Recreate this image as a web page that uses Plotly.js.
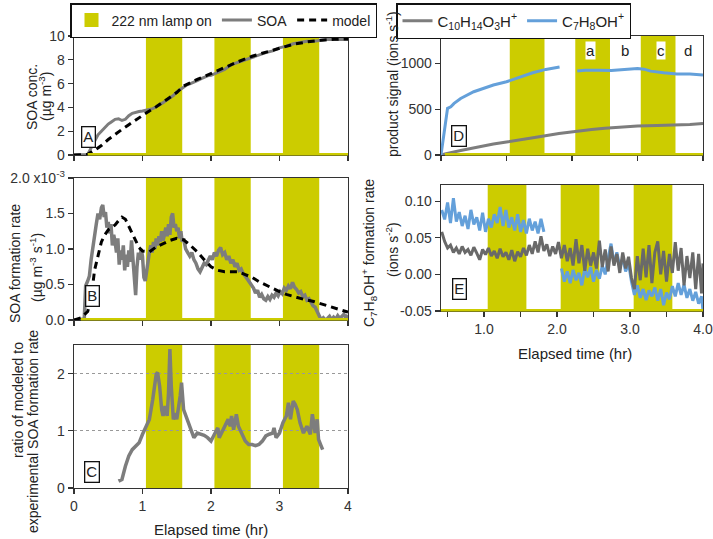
<!DOCTYPE html>
<html>
<head>
<meta charset="utf-8">
<script src="https://cdn.plot.ly/plotly-3.0.1.min.js"></script>
<style>html,body{margin:0;padding:0;background:#fff;}#chart{width:713px;height:539px;}</style>
</head>
<body>
<div id="chart"></div>
<script>
// ---------- DATA ----------
const lampOn  = [1.05, 2.05, 3.05];
const lampOff = [1.58, 2.58, 3.58];

// Panel A: SOA concentration (ug m-3)
const soaTimeA = [0, 0.1, 0.2, 0.25, 0.3, 0.35, 0.4, 0.45, 0.5, 0.55, 0.6, 0.65, 0.7, 0.75, 0.8, 0.85, 0.9, 0.95, 1.0, 1.05, 1.1, 1.15, 1.2, 1.25, 1.3, 1.35, 1.4, 1.45, 1.5, 1.55, 1.6, 1.65, 1.7, 1.75, 1.8, 1.85, 1.9, 1.95, 2.0, 2.1, 2.2, 2.3, 2.4, 2.5, 2.6, 2.7, 2.8, 2.9, 3.0, 3.1, 3.2, 3.3, 3.4, 3.5, 3.6, 3.7, 3.8, 3.9, 4.0];
const soaConcA = [0, 0.02, 0.05, 0.6, 1.2, 1.7, 2.0, 2.3, 2.6, 2.8, 3.0, 3.05, 2.9, 3.0, 3.3, 3.5, 3.6, 3.65, 3.7, 3.75, 3.8, 3.9, 4.05, 4.2, 4.4, 4.6, 4.8, 5.0, 5.3, 5.5, 5.7, 5.9, 6.0, 6.1, 6.25, 6.4, 6.55, 6.65, 6.7, 6.95, 7.2, 7.6, 7.8, 8.0, 8.25, 8.4, 8.6, 8.75, 9.0, 9.15, 9.35, 9.45, 9.55, 9.55, 9.65, 9.7, 9.72, 9.68, 9.7];
const modelTimeA = [0, 0.1, 0.2, 0.3, 0.4, 0.5, 0.6, 0.7, 0.8, 0.9, 1.0, 1.1, 1.2, 1.3, 1.4, 1.5, 1.6, 1.7, 1.8, 1.9, 2.0, 2.2, 2.4, 2.6, 2.8, 3.0, 3.2, 3.4, 3.6, 3.8, 4.0];
const modelConcA = [0, 0, 0.05, 0.4, 0.8, 1.3, 1.75, 2.15, 2.55, 2.95, 3.3, 3.7, 4.05, 4.45, 4.85, 5.25, 5.8, 6.1, 6.35, 6.6, 6.85, 7.4, 7.85, 8.3, 8.65, 9.0, 9.3, 9.5, 9.65, 9.72, 9.75];

// Panel B: SOA formation rate (x10^-3 ug m-3 s-1)
const rateTimeB = [0, 0.08, 0.15, 0.17, 0.2, 0.225, 0.25, 0.275, 0.3, 0.325, 0.35, 0.375, 0.4, 0.42, 0.44, 0.46, 0.48, 0.5, 0.52, 0.54, 0.56, 0.58, 0.6, 0.62, 0.64, 0.66, 0.68, 0.7, 0.72, 0.74, 0.76, 0.78, 0.8, 0.82, 0.84, 0.86, 0.88, 0.9, 0.92, 0.94, 0.96, 0.98, 1.0, 1.02, 1.04, 1.06, 1.08, 1.1, 1.12, 1.14, 1.16, 1.18, 1.2, 1.22, 1.24, 1.26, 1.28, 1.3, 1.32, 1.34, 1.36, 1.38, 1.4, 1.42, 1.44, 1.46, 1.48, 1.5, 1.52, 1.54, 1.56, 1.58, 1.6, 1.63, 1.66, 1.69, 1.72, 1.75, 1.78, 1.81, 1.84, 1.87, 1.9, 1.93, 1.96, 1.99, 2.02, 2.05, 2.08, 2.11, 2.14, 2.17, 2.2, 2.23, 2.26, 2.29, 2.32, 2.35, 2.38, 2.41, 2.44, 2.47, 2.5, 2.53, 2.56, 2.59, 2.62, 2.65, 2.68, 2.71, 2.74, 2.77, 2.8, 2.83, 2.86, 2.89, 2.92, 2.95, 2.98, 3.01, 3.04, 3.07, 3.1, 3.13, 3.16, 3.19, 3.22, 3.25, 3.28, 3.31, 3.34, 3.37, 3.4, 3.43, 3.46, 3.49, 3.52, 3.55, 3.58, 3.61, 3.64, 3.67, 3.7, 3.73, 3.76, 3.79, 3.82, 3.85, 3.88, 3.91, 3.94, 3.97, 4.0];
const soaRateB = [0, 0.0, 0.02, 0.48, 0.55, 0.62, 0.85, 1.05, 1.25, 1.35, 1.5, 1.42, 1.58, 1.62, 1.45, 1.52, 1.3, 1.38, 1.22, 1.35, 1.05, 1.2, 1.1, 0.95, 1.15, 0.78, 0.98, 0.85, 1.05, 0.7, 0.92, 0.75, 0.98, 0.82, 1.12, 0.9, 0.6, 0.35, 0.75, 0.95, 0.85, 1.0, 0.9, 0.6, 0.55, 0.7, 0.82, 0.95, 1.05, 0.95, 1.1, 1.0, 1.15, 1.05, 1.18, 1.1, 1.25, 1.12, 1.2, 1.3, 1.18, 1.35, 1.2, 1.45, 1.5, 1.3, 1.35, 1.25, 1.3, 1.15, 1.25, 1.1, 1.15, 1.0, 0.95, 0.9, 0.95, 0.85, 0.8, 0.72, 0.68, 0.75, 0.8, 0.78, 0.85, 0.9, 0.85, 0.95, 0.9, 0.98, 1.02, 0.92, 0.95, 0.85, 0.9, 0.8, 0.85, 0.75, 0.8, 0.7, 0.72, 0.65, 0.62, 0.58, 0.55, 0.5, 0.45, 0.38, 0.42, 0.32, 0.36, 0.3, 0.28, 0.33, 0.29, 0.35, 0.32, 0.38, 0.34, 0.4, 0.37, 0.45, 0.42, 0.48, 0.44, 0.53, 0.46, 0.43, 0.38, 0.4, 0.33, 0.35, 0.28, 0.3, 0.24, 0.2, 0.18, 0.12, 0.05, 0.0, 0.03, 0.0, 0.02, 0.05, 0.0, 0.04, 0.01, 0.06, 0.02, 0.05, 0.08, 0.03, 0.07];
const modelTimeB = [0, 0.1, 0.2, 0.25, 0.3, 0.35, 0.4, 0.45, 0.5, 0.55, 0.6, 0.65, 0.7, 0.75, 0.8, 0.85, 0.9, 0.95, 1.0, 1.1, 1.2, 1.3, 1.4, 1.5, 1.6, 1.7, 1.8, 1.9, 2.0, 2.1, 2.2, 2.3, 2.4, 2.5, 2.6, 2.7, 2.8, 2.9, 3.0, 3.1, 3.2, 3.3, 3.4, 3.5, 3.6, 3.7, 3.8, 3.9, 4.0];
const modelRateB = [0, 0.03, 0.12, 0.3, 0.7, 0.9, 1.1, 1.2, 1.27, 1.3, 1.34, 1.4, 1.45, 1.42, 1.32, 1.2, 1.1, 1.02, 0.97, 0.96, 1.03, 1.08, 1.12, 1.15, 1.13, 1.05, 0.96, 0.85, 0.75, 0.7, 0.68, 0.68, 0.68, 0.64, 0.6, 0.54, 0.49, 0.44, 0.4, 0.36, 0.33, 0.31, 0.28, 0.26, 0.23, 0.2, 0.16, 0.14, 0.11];

// Panel C: ratio of modeled to experimental SOA formation rate
const ratioTimeC = [0.65, 0.7, 0.75, 0.8, 0.85, 0.9, 0.95, 1.0, 1.05, 1.1, 1.15, 1.2, 1.22, 1.25, 1.28, 1.3, 1.33, 1.36, 1.38, 1.4, 1.42, 1.45, 1.48, 1.5, 1.55, 1.57, 1.6, 1.65, 1.7, 1.75, 1.8, 1.85, 1.9, 1.95, 2.0, 2.05, 2.1, 2.12, 2.15, 2.2, 2.25, 2.28, 2.3, 2.33, 2.35, 2.37, 2.4, 2.45, 2.5, 2.55, 2.6, 2.65, 2.7, 2.75, 2.8, 2.85, 2.9, 2.92, 2.95, 3.0, 3.05, 3.1, 3.13, 3.16, 3.2, 3.23, 3.26, 3.3, 3.35, 3.4, 3.45, 3.48, 3.52, 3.55, 3.57, 3.6, 3.63];
const ratioC = [0.12, 0.15, 0.38, 0.56, 0.67, 0.73, 0.79, 0.94, 1.08, 1.2, 1.55, 1.99, 2.02, 1.78, 1.37, 1.26, 1.43, 1.26, 1.67, 2.43, 1.78, 1.2, 1.31, 1.2, 1.61, 1.84, 1.37, 1.2, 1.02, 0.88, 0.96, 0.94, 0.92, 0.88, 0.82, 0.94, 1.05, 0.88, 0.96, 1.08, 1.2, 1.08, 1.26, 1.02, 1.2, 1.29, 1.08, 0.96, 0.82, 0.76, 0.76, 0.74, 0.76, 0.82, 0.91, 0.94, 0.96, 1.05, 0.88, 0.96, 1.14, 1.26, 1.49, 1.2, 1.52, 1.46, 1.37, 1.14, 0.96, 1.08, 0.94, 1.29, 0.96, 1.2, 0.85, 0.76, 0.67];

// Panel D: product signal (ions s-1)
const prodTimeC10 = [0, 0.06, 0.3, 0.5, 0.8, 1.0, 1.2, 1.5, 1.8, 2.0, 2.3, 2.5, 2.8, 3.0, 3.3, 3.5, 3.8, 4.0];
const signalC10 = [0, 12, 50, 80, 120, 142, 168, 200, 235, 255, 278, 291, 305, 316, 321, 324, 334, 345];
const prodTimeC7 = [0, 0.1, 0.15, 0.2, 0.3, 0.4, 0.5, 0.6, 0.8, 1.0, 1.2, 1.4, 1.6, 1.81, 1.9, 2.08, 2.2, 2.4, 2.6, 2.8, 3.0, 3.1, 3.2, 3.4, 3.6, 3.8, 4.0];
const signalC7 = [0, 510, 527, 564, 618, 655, 691, 716, 764, 800, 847, 898, 935, 962, null, 918, 927, 927, 924, 935, 945, 938, 916, 898, 884, 884, 873];

// Panel E: C7H8OH+ formation rate (ions s-2)
const rateTimeC10E = [0.42,0.46,0.50,0.54,0.58,0.62,0.66,0.70,0.74,0.78,0.82,0.86,0.90,0.94,0.98,1.02,1.06,1.10,1.14,1.18,1.22,1.26,1.30,1.34,1.38,1.42,1.46,1.50,1.54,1.58,1.62,1.66,1.70,1.74,1.78,1.82,1.86,1.90,1.94,1.98,2.02,2.06,2.10,2.14,2.18,2.22,2.26,2.30,2.34,2.38,2.42,2.46,2.50,2.54,2.58,2.62,2.66,2.70,2.74,2.78,2.82,2.86,2.90,2.94,2.98,3.02,3.06,3.10,3.14,3.18,3.22,3.26,3.30,3.34,3.38,3.42,3.46,3.50,3.54,3.58,3.62,3.66,3.70,3.74,3.78,3.82,3.86,3.90,3.94,3.98,4.00];
const rateC10E = [0.058,0.045,0.036,0.040,0.030,0.036,0.028,0.038,0.030,0.034,0.026,0.037,0.029,0.020,0.034,0.027,0.036,0.025,0.032,0.022,0.035,0.024,0.030,0.020,0.033,0.018,0.031,0.024,0.036,0.026,0.040,0.028,0.045,0.030,0.052,0.032,0.041,0.025,0.038,0.028,0.044,0.022,0.040,0.018,0.036,0.012,0.048,0.015,0.040,0.005,0.035,0.012,0.030,0.008,0.046,0.010,0.034,0.004,0.038,0.012,0.028,0.002,0.030,0.008,0.024,-0.005,-0.020,0.025,-0.008,0.035,-0.004,0.040,-0.012,0.030,0.045,0.000,0.032,-0.010,0.028,0.002,0.044,0.005,0.036,-0.015,0.025,-0.005,0.030,-0.020,0.028,-0.026,0.015];
const rateTimeC7E = [0.42,0.46,0.50,0.54,0.58,0.62,0.66,0.70,0.74,0.78,0.82,0.86,0.90,0.94,0.98,1.02,1.06,1.10,1.14,1.18,1.22,1.26,1.30,1.34,1.38,1.42,1.46,1.50,1.54,1.58,1.62,1.66,1.70,1.74,1.78,1.82,1.94,2.06,2.10,2.14,2.18,2.22,2.26,2.30,2.34,2.38,2.42,2.46,2.50,2.54,2.58,2.62,2.66,2.70,2.74,2.78,2.82,2.86,2.90,2.94,2.98,3.02,3.06,3.10,3.14,3.18,3.22,3.26,3.30,3.34,3.38,3.42,3.46,3.50,3.54,3.58,3.62,3.66,3.70,3.74,3.78,3.82,3.86,3.90,3.94,3.98,4.00];
const rateC7E = [0.088,0.075,0.098,0.070,0.104,0.072,0.085,0.066,0.080,0.062,0.088,0.068,0.078,0.060,0.084,0.058,0.076,0.064,0.082,0.070,0.092,0.066,0.088,0.064,0.078,0.060,0.082,0.058,0.074,0.056,0.076,0.060,0.072,0.056,0.076,0.058,null,0.008,-0.010,0.004,-0.012,0.006,-0.008,0.002,-0.015,0.008,-0.004,0.010,-0.010,0.006,-0.006,0.012,0.000,0.022,0.042,0.015,0.030,0.010,0.022,0.004,0.015,-0.010,-0.028,-0.015,-0.032,-0.020,-0.035,-0.022,-0.030,-0.018,-0.036,-0.020,-0.042,-0.025,-0.034,-0.016,-0.030,-0.012,-0.028,-0.014,-0.032,-0.020,-0.036,-0.024,-0.040,-0.030,-0.050];

const panelLetters = ['A', 'B', 'C', 'D', 'E'];
const intervalLabels = ['a', 'b', 'c', 'd'];

// ---------- STYLE ----------
const FONT = 'Liberation Sans, Arial, sans-serif';
const YEL = 'rgb(204,204,0)';
const GRAY = 'rgb(125,125,125)';
const DGRAY = 'rgb(105,105,105)';
const BLUE = 'rgb(100,160,218)';
const AX = '#333';

function px2x(p) { return p / 713; }
function px2y(p) { return 1 - p / 539; }

const traces = [
  {x: [null], y: [null], xaxis: 'x', yaxis: 'y', type: 'scatter', mode: 'markers', name: '222 nm lamp on',
   marker: {symbol: 'square', size: 14, color: YEL}, legend: 'legend'},
  {x: soaTimeA, y: soaConcA, xaxis: 'x', yaxis: 'y', type: 'scatter', mode: 'lines', name: 'SOA',
   line: {color: GRAY, width: 3}, legend: 'legend'},
  {x: modelTimeA, y: modelConcA, xaxis: 'x', yaxis: 'y', type: 'scatter', mode: 'lines', name: 'model',
   line: {color: '#000', width: 3, dash: '7px,5px'}, legend: 'legend'},
  {x: rateTimeB, y: soaRateB, xaxis: 'x2', yaxis: 'y2', type: 'scatter', mode: 'lines', showlegend: false,
   line: {color: GRAY, width: 3.5}},
  {x: modelTimeB, y: modelRateB, xaxis: 'x2', yaxis: 'y2', type: 'scatter', mode: 'lines', showlegend: false,
   line: {color: '#000', width: 3, dash: '7px,5px'}},
  {x: ratioTimeC, y: ratioC, xaxis: 'x3', yaxis: 'y3', type: 'scatter', mode: 'lines', showlegend: false,
   line: {color: GRAY, width: 3.5}},
  {x: prodTimeC10, y: signalC10, xaxis: 'x4', yaxis: 'y4', type: 'scatter', mode: 'lines',
   name: 'C<sub>10</sub>H<sub>14</sub>O<sub>3</sub>H<sup>+</sup>', line: {color: GRAY, width: 3}, legend: 'legend2'},
  {x: prodTimeC7, y: signalC7, xaxis: 'x4', yaxis: 'y4', type: 'scatter', mode: 'lines', connectgaps: false,
   name: 'C<sub>7</sub>H<sub>8</sub>OH<sup>+</sup>', line: {color: BLUE, width: 3}, legend: 'legend2'},
  {x: rateTimeC7E, y: rateC7E, xaxis: 'x5', yaxis: 'y5', type: 'scatter', mode: 'lines', showlegend: false,
   connectgaps: false, line: {color: BLUE, width: 3}},
  {x: rateTimeC10E, y: rateC10E, xaxis: 'x5', yaxis: 'y5', type: 'scatter', mode: 'lines', showlegend: false,
   line: {color: DGRAY, width: 3}}
];

function axBase(extra) {
  return Object.assign({
    showline: true, mirror: true, linecolor: AX, linewidth: 1.3,
    ticks: 'outside', ticklen: 5, tickcolor: AX, tickwidth: 1.2,
    zeroline: false, showgrid: false, fixedrange: true,
    tickfont: {family: FONT, size: 14, color: '#333'}
  }, extra);
}

const xdomL = [px2x(74), px2x(348)];
const xdomR = [px2x(441), px2x(703)];

const layout = {
  width: 713, height: 539,
  margin: {l: 0, r: 0, t: 0, b: 0},
  paper_bgcolor: '#fff', plot_bgcolor: 'rgba(0,0,0,0)',
  font: {family: FONT, color: '#222'},
  showlegend: true,
  legend: {orientation: 'h', x: px2x(70), y: px2y(3), xanchor: 'left', yanchor: 'top',
    bordercolor: '#111', borderwidth: 1.5, bgcolor: '#fff', font: {family: FONT, size: 14, color: '#222'},
    itemwidth: 30},
  legend2: {orientation: 'h', x: px2x(396), y: px2y(3), xanchor: 'left', yanchor: 'top',
    bordercolor: '#111', borderwidth: 1.5, bgcolor: '#fff', font: {family: FONT, size: 15, color: '#222'},
    itemwidth: 30},
  xaxis: axBase({domain: xdomL, anchor: 'y', range: [0, 4], tickvals: [0, 1, 2, 3, 4], showticklabels: false}),
  yaxis: axBase({domain: [px2y(155), px2y(36)], anchor: 'x', range: [0, 10], tickvals: [0, 2, 4, 6, 8, 10]}),
  xaxis2: axBase({domain: xdomL, anchor: 'y2', range: [0, 4], tickvals: [0, 1, 2, 3, 4], showticklabels: false}),
  yaxis2: axBase({domain: [px2y(320), px2y(178)], anchor: 'x2', range: [0, 2],
    tickvals: [0, 0.5, 1, 1.5, 2], ticktext: ['0.0', '0.5', '1.0', '1.5', '2.0 x10<sup>-3</sup>']}),
  xaxis3: axBase({domain: xdomL, anchor: 'y3', range: [0, 4], tickvals: [0, 1, 2, 3, 4]}),
  yaxis3: axBase({domain: [px2y(488), px2y(345)], anchor: 'x3', range: [0, 2.5], tickvals: [0, 1, 2],
    showgrid: true, gridcolor: '#999', griddash: 'dot', gridwidth: 1}),
  xaxis4: axBase({domain: xdomR, anchor: 'y4', range: [0, 4], tickvals: [0, 1, 2, 3, 4], showticklabels: false}),
  yaxis4: axBase({domain: [px2y(155), px2y(36)], anchor: 'x4', range: [0, 1300], tickvals: [0, 500, 1000]}),
  xaxis5: axBase({domain: xdomR, anchor: 'y5', range: [0.41, 4.0],
    tickvals: [0.5, 1, 1.5, 2, 2.5, 3, 3.5, 4], ticktext: ['', '1.0', '', '2.0', '', '3.0', '', '4.0']}),
  yaxis5: axBase({domain: [px2y(311), px2y(185)], anchor: 'x5', range: [-0.05, 0.122],
    tickvals: [-0.05, 0, 0.05, 0.1], ticktext: ['-0.05', '0.00', '0.05', '0.10']}),
  shapes: [],
  annotations: []
};

// lamp bands from data arrays
const axPairs = [['x', 'y'], ['x2', 'y2'], ['x3', 'y3'], ['x4', 'y4'], ['x5', 'y5']];
axPairs.forEach(([xa, ya]) => {
  lampOn.forEach((s, i) => {
    layout.shapes.push({type: 'rect', xref: xa, yref: ya + ' domain', x0: s, x1: lampOff[i], y0: 0, y1: 1,
      fillcolor: YEL, line: {width: 0}, layer: 'below'});
  });
});
// lamp-status baseline (yellow) along bottom of A, B, D, E
[['x', 'y', 0.2, 4], ['x2', 'y2', 0.1, 4], ['x4', 'y4', 0.06, 4], ['x5', 'y5', 0.41, 4]].forEach(([xa, ya, a, b]) => {
  layout.shapes.push({type: 'line', xref: xa, yref: ya + ' domain', x0: a, x1: b, y0: 0.006, y1: 0.006,
    line: {color: YEL, width: 2.5}, layer: 'above'});
});

function ann(text, x, y, opts) {
  layout.annotations.push(Object.assign({text: text, x: px2x(x), y: px2y(y), xref: 'paper', yref: 'paper',
    showarrow: false, xanchor: 'center', yanchor: 'middle',
    font: {family: FONT, size: 14, color: '#222'}}, opts || {}));
}

// y-axis titles
ann('SOA conc.', 32, 97, {textangle: -90});
ann('(µg m<sup>-3</sup>)', 45, 97, {textangle: -90});
ann('SOA formation rate', 15, 264, {textangle: -90});
ann('(µg m<sup>-3</sup> s<sup>-1</sup>)', 36, 268, {textangle: -90});
ann('ratio of modeled to', 18, 400, {textangle: -90});
ann('experimental SOA formation rate', 33, 432, {textangle: -90});
ann('product signal (ions s<sup>-1</sup>)', 392, 84, {textangle: -90});
ann('C<sub>7</sub>H<sub>8</sub>OH<sup>+</sup> formation rate', 369, 253, {textangle: -90});
ann('(ions s<sup>-2</sup>)', 392, 250, {textangle: -90});
// x-axis titles
ann('Elapsed time (hr)', 211, 529, {font: {family: FONT, size: 15, color: '#222'}});
ann('Elapsed time (hr)', 575, 353, {font: {family: FONT, size: 15, color: '#222'}});

// panel letters
const letterPos = [[88, 137.5], [92, 296], [91.5, 472], [458.5, 135.5], [459.5, 289]];
panelLetters.forEach((L, i) => {
  ann(L, letterPos[i][0], letterPos[i][1], {bordercolor: '#111', borderwidth: 1.3, borderpad: 1,
    bgcolor: '#fff', font: {family: FONT, size: 15, color: '#222'}});
});
// interval labels a-d in panel D
const intervalX = [2.29, 2.81, 3.36, 3.77];
intervalLabels.forEach((t, i) => {
  layout.annotations.push({text: t, x: intervalX[i], y: 1145, xref: 'x4', yref: 'y4', showarrow: false,
    bgcolor: '#fff', borderpad: 0, font: {family: FONT, size: 15, color: '#222'}});
});

Plotly.newPlot('chart', traces, layout, {displayModeBar: false, staticPlot: true});
</script>
</body>
</html>
